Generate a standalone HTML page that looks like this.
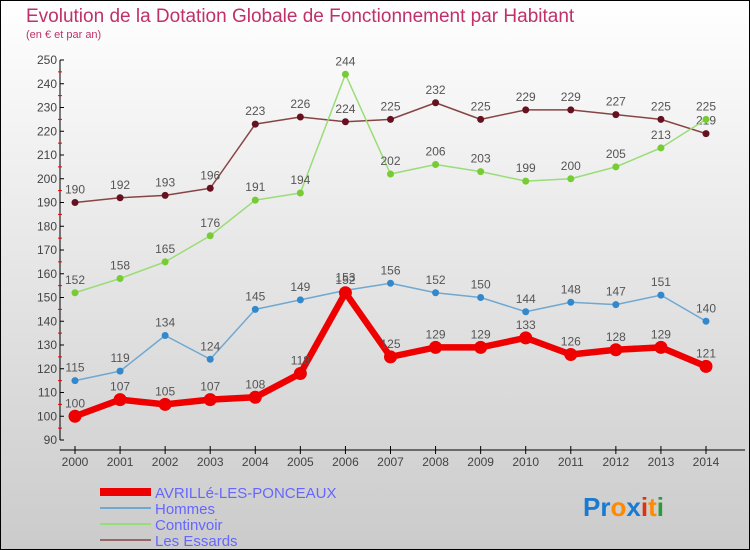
<!DOCTYPE html>
<html><head><meta charset="utf-8"><style>
body{margin:0;width:750px;height:550px;overflow:hidden}
svg{display:block;font-family:"Liberation Sans",sans-serif}
</style></head><body>
<svg id="c" width="750" height="550" viewBox="0 0 750 550">
<defs><linearGradient id="bg" x1="0" y1="0" x2="0" y2="1"><stop offset="0" stop-color="#ffffff"/><stop offset="1" stop-color="#cbcbcb"/></linearGradient></defs>
<rect x="0.5" y="0.5" width="749" height="549" fill="url(#bg)" stroke="#000"/>
<text x="26" y="22" font-size="19" fill="#c0306a">Evolution de la Dotation Globale de Fonctionnement par Habitant</text>
<text x="26" y="38" font-size="11" fill="#c0306a">(en € et par an)</text>
<g id="axes"></g>
<g id="series"></g>
<g id="legend">
<line x1="100" y1="492" x2="151" y2="492" stroke="#e00" stroke-width="8"/>
<text x="155" y="498" font-size="15" fill="#6666ff">AVRILLé-LES-PONCEAUX</text>
<line x1="100" y1="508" x2="151" y2="508" stroke="#6fa8d0" stroke-width="2"/>
<text x="155" y="514" font-size="15" fill="#6666ff">Hommes</text>
<line x1="100" y1="524" x2="151" y2="524" stroke="#99dd77" stroke-width="2"/>
<text x="155" y="530" font-size="15" fill="#6666ff">Continvoir</text>
<line x1="100" y1="540" x2="151" y2="540" stroke="#996666" stroke-width="2"/>
<text x="155" y="546" font-size="15" fill="#6666ff">Les Essards</text>
</g>
<text x="583" y="516" font-size="26" font-weight="bold"><tspan fill="#1a7ad0">Pr</tspan><tspan fill="#ff8a00">o</tspan><tspan fill="#1a7ad0">x</tspan><tspan fill="#e03010">i</tspan><tspan fill="#ff8a00">t</tspan><tspan fill="#2a9a3a">i</tspan></text>
</svg>
<script>
const years=[2000,2001,2002,2003,2004,2005,2006,2007,2008,2009,2010,2011,2012,2013,2014];
const yTicks=[90,100,110,120,130,140,150,160,170,180,190,200,210,220,230,240,250];
const avrille=[100,107,105,107,108,118,152,125,129,129,133,126,128,129,121];
const hommes=[115,119,134,124,145,149,153,156,152,150,144,148,147,151,140];
const continvoir=[152,158,165,176,191,194,244,202,206,203,199,200,205,213,225];
const essards=[190,192,193,196,223,226,224,225,232,225,229,229,227,225,219];
const NS='http://www.w3.org/2000/svg';
const xs=i=>75+i*(706-75)/(years.length-1);
const ys=v=>440-(v-90)*(380/160);
function mk(p,t,a){const e=document.createElementNS(NS,t);for(const k in a)e.setAttribute(k,a[k]);p.appendChild(e);return e;}
const ax=document.getElementById('axes');
let e=mk(ax,'line',{x1:60,y1:ys(250),x2:60,y2:ys(90),stroke:'#000'});


e=mk(ax,'line',{x1:60,y1:450,x2:745,y2:450,stroke:'#000'});


yTicks.forEach((v,i)=>{
 mk(ax,'line',{x1:60,y1:ys(v),x2:64,y2:ys(v),stroke:'#000'});
 if(i<yTicks.length-1)mk(ax,'line',{x1:58,y1:ys(v+5),x2:62,y2:ys(v+5),stroke:'#e00'});
 const t=mk(ax,'text',{x:57,y:ys(v)+4,'font-size':12,fill:'#444','text-anchor':'end'});
 t.textContent=v;
 
 
});
years.forEach((y,i)=>{
 mk(ax,'line',{x1:xs(i),y1:446,x2:xs(i),y2:454,stroke:'#000'});
 const t=mk(ax,'text',{x:xs(i),y:466,'font-size':12,fill:'#444','text-anchor':'middle'});
 t.textContent=y;
 
 
});
const sg=document.getElementById('series');
function series(name,vals,col,dot,w,r){
 const g=mk(sg,'g',{});
 
 
 const l=mk(g,'polyline',{points:vals.map((v,i)=>xs(i)+','+ys(v)).join(' '),fill:'none',stroke:col,'stroke-width':w,'stroke-linejoin':'round'});
 
 
 vals.forEach((v,i)=>{
  const c=mk(g,'circle',{cx:xs(i),cy:ys(v),r:r,fill:dot});
  
  
  const t=mk(g,'text',{x:xs(i),y:ys(v)-9,'font-size':12,fill:'#555','text-anchor':'middle'});
  t.textContent=v;
  
  
 });
}
series('essards',essards,'#884444','#661122',1.5,3.5);
series('continvoir',continvoir,'#99dd77','#77cc33',1.5,3.5);
series('hommes',hommes,'#6fa8d0','#3388cc',1.5,3.5);
series('avrille',avrille,'#ee0000','#ee0000',6.5,6.5);
</script>
</body></html>
